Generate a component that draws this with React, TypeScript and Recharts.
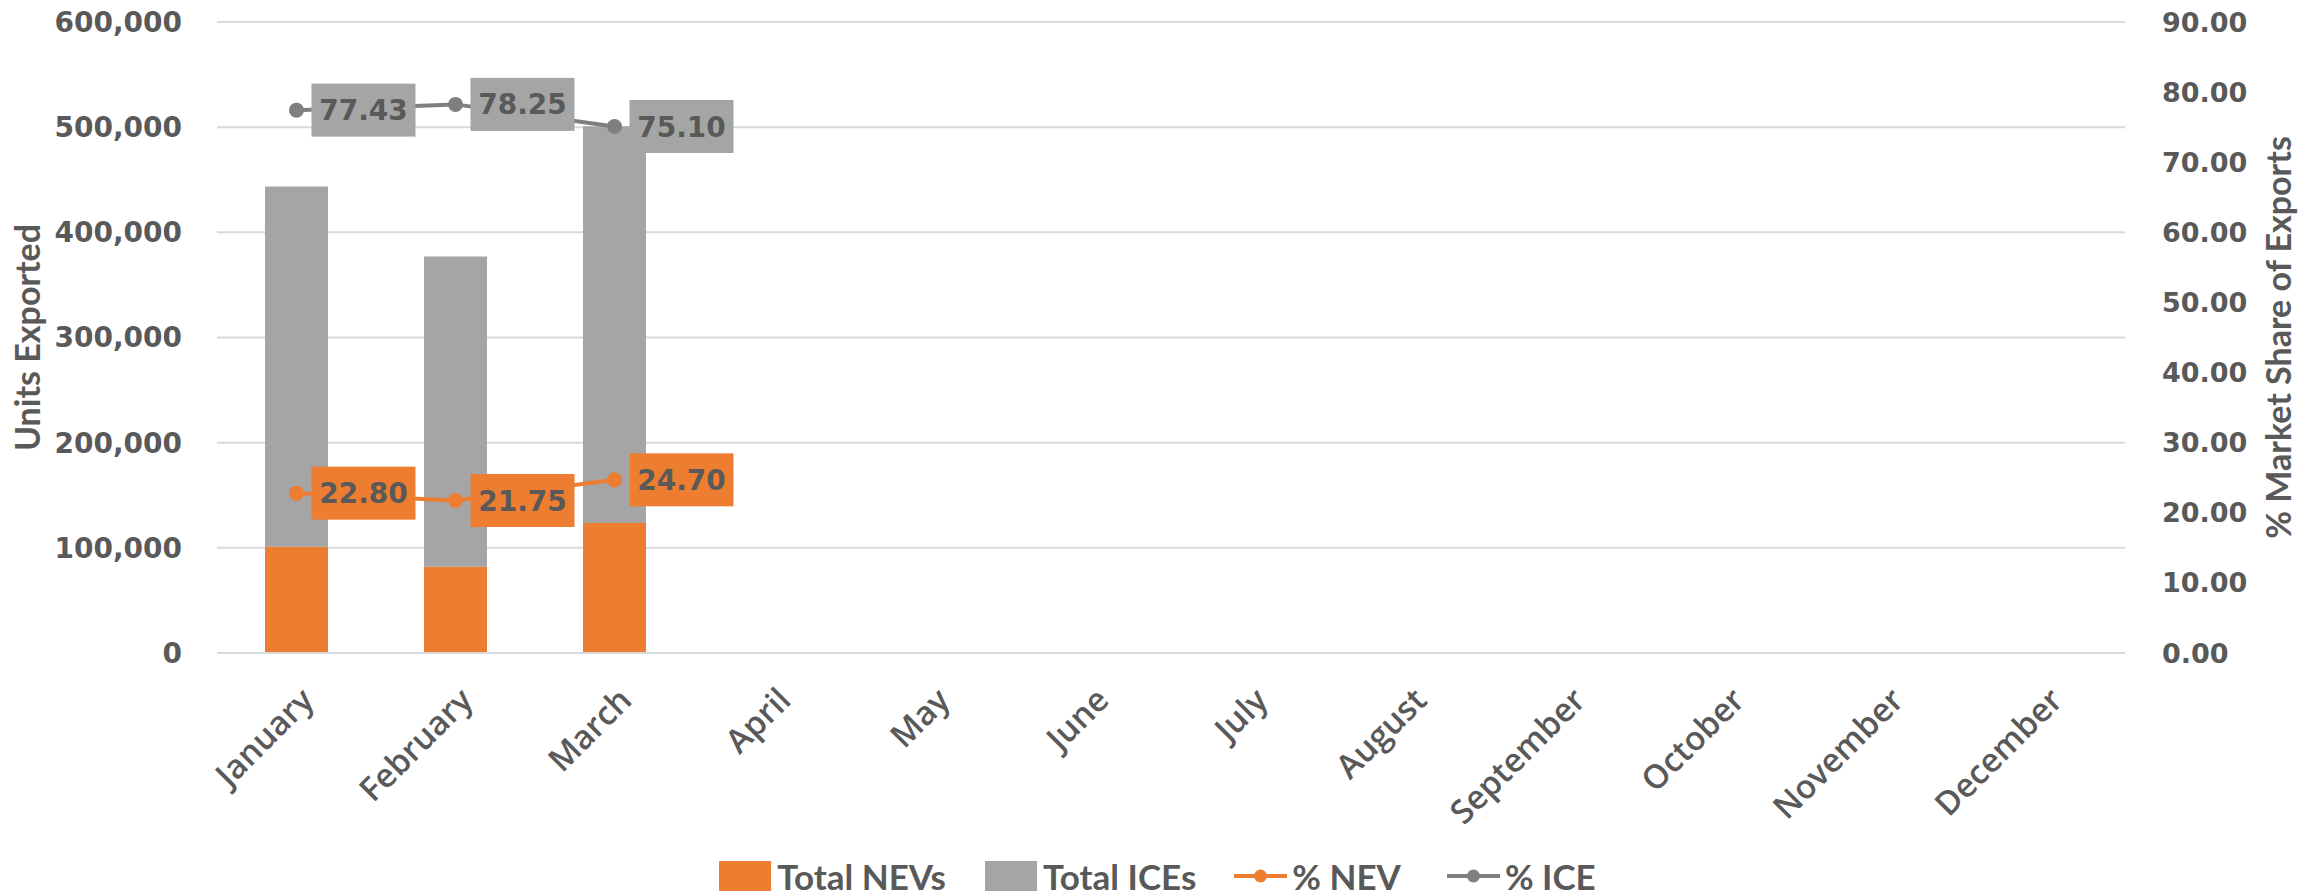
import { Bar, CartesianGrid, ComposedChart, Label, LabelList, Legend, Line, XAxis, YAxis } from "recharts";

const months = ['January', 'February', 'March', 'April', 'May', 'June', 'July', 'August', 'September', 'October', 'November', 'December'];
const nevUnits = [101000, 82000, 123700, null, null, null, null, null, null, null, null, null];
const iceUnits = [342600, 295000, 377100, null, null, null, null, null, null, null, null, null];
const nevShare = [22.80, 21.75, 24.70, null, null, null, null, null, null, null, null, null];
const iceShare = [77.43, 78.25, 75.10, null, null, null, null, null, null, null, null, null];
const unitTicks = [0, 100000, 200000, 300000, 400000, 500000, 600000];
const shareTicks = [0, 10, 20, 30, 40, 50, 60, 70, 80, 90];

const data = months.map((m, i) => ({
    month: m,
    nev: nevUnits[i],
    ice: iceUnits[i],
    nevPct: nevShare[i],
    icePct: iceShare[i],
}));

const ORANGE = '#ED7D31';
const GREY = '#A5A5A5';
const GREY_LINE = '#7F7F7F';
const TEXT = '#595959';
const TITLE_FONT = "Lato, 'Open Sans', sans-serif";
const TICK_FONT = "'DejaVu Sans', Verdana, sans-serif";

function MonthTick(props: any) {
    const { x, y, payload } = props;
    const ax = x + 11, ay = y + 41;
    return (
        <text x={ax} y={ay} dy="0.35em" textAnchor="end" transform={`rotate(-45, ${ax}, ${ay})`}
            fill={TEXT} fontFamily="'Open Sans', sans-serif" fontWeight={600} fontSize={33}>
            {payload.value}
        </text>
    );
}

function boxLabel(fill: string) {
    return (props: any) => {
        const { x, y, value } = props;
        if (value == null) return null;
        const w = 104, h = 53;
        return (
            <g>
                <rect x={x + 15} y={y - h / 2} width={w} height={h} fill={fill} />
                <text x={x + 15 + w / 2} y={y} dy="0.36em" textAnchor="middle" fill={TEXT}
                    fontFamily={TICK_FONT} fontWeight="bold" fontSize={28}>
                    {Number(value).toFixed(2)}
                </text>
            </g>
        );
    };
}

// rotated axis title, bx = x of the text baseline
function AxisTitle(props: any) {
    const { viewBox, value, bx } = props;
    const cy = viewBox.y + viewBox.height / 2;
    return (
        <text x={bx} y={cy} textAnchor="middle" transform={`rotate(-90, ${bx}, ${cy})`}
            fill={TEXT} fontFamily={TITLE_FONT} fontWeight="bold" fontSize={34}>
            {value}
        </text>
    );
}

function LegendBox() {
    const txt = { fontFamily: TITLE_FONT, fontWeight: 'bold', fontSize: 35, color: TEXT, lineHeight: '36px' } as const;
    const swatch = (c: string) => <div style={{ width: 52, height: 30, background: c, marginRight: 6 }} />;
    const lineKey = (c: string) => (
        <svg width={53} height={20} style={{ marginRight: 5 }}>
            <line x1={0} y1={10} x2={53} y2={10} stroke={c} strokeWidth={4} />
            <circle cx={26.5} cy={10} r={6.5} fill={c} />
        </svg>
    );
    return (
        <div style={{ display: 'flex', justifyContent: 'center', alignItems: 'center', height: 36 }}>
            <div style={{ display: 'flex', alignItems: 'center', marginRight: 39 }}>{swatch(ORANGE)}<span style={txt}>Total NEVs</span></div>
            <div style={{ display: 'flex', alignItems: 'center', marginRight: 38 }}>{swatch(GREY)}<span style={txt}>Total ICEs</span></div>
            <div style={{ display: 'flex', alignItems: 'center', marginRight: 46 }}>{lineKey(ORANGE)}<span style={txt}>% NEV</span></div>
            <div style={{ display: 'flex', alignItems: 'center' }}>{lineKey(GREY_LINE)}<span style={txt}>% ICE</span></div>
        </div>
    );
}

export default function ExportsChart() {
    return (
        <div>
            <style>{`body{margin:0}`}</style>
            <ComposedChart width={2315} height={894} data={data} margin={{ top: 22, right: 0, left: 0, bottom: 0 }}>
                <CartesianGrid yAxisId="left" vertical={false} stroke="#D9D9D9" strokeWidth={2} />
                <XAxis dataKey="month" height={205} tickLine={false} tickSize={0} tickMargin={0}
                    axisLine={{ stroke: '#D9D9D9', strokeWidth: 2 }} tick={<MonthTick />} interval={0} />
                <YAxis yAxisId="left" width={217} domain={[0, 600000]} ticks={unitTicks} axisLine={false} tickLine={false}
                    tickSize={0} tickMargin={35} tickFormatter={(v: number) => v.toLocaleString('en-US')}
                    tick={{ fill: TEXT, fontFamily: TICK_FONT, fontWeight: 'bold', fontSize: 28 }}>
                    <Label value="Units Exported" content={<AxisTitle bx={40} />} />
                </YAxis>
                <YAxis yAxisId="right" orientation="right" width={190} domain={[0, 90]} ticks={shareTicks} axisLine={false}
                    tickLine={false} tickSize={0} tickMargin={37} tickFormatter={(v: number) => v.toFixed(2)}
                    tick={{ fill: TEXT, fontFamily: TICK_FONT, fontWeight: 'bold', fontSize: 27, textAnchor: 'start' }}>
                    <Label value="% Market Share of Exports" content={<AxisTitle bx={2291} />} />
                </YAxis>
                <Legend verticalAlign="bottom" content={<LegendBox />} />
                <Bar yAxisId="left" dataKey="nev" stackId="u" fill={ORANGE} name="Total NEVs" barSize={63} isAnimationActive={false} />
                <Bar yAxisId="left" dataKey="ice" stackId="u" fill={GREY} name="Total ICEs" barSize={63} isAnimationActive={false} />
                <Line yAxisId="right" dataKey="nevPct" stroke={ORANGE} strokeWidth={4} name="% NEV"
                    dot={{ r: 7.5, fill: ORANGE, stroke: ORANGE, strokeWidth: 0 }} activeDot={false} isAnimationActive={false}>
                    <LabelList dataKey="nevPct" content={boxLabel(ORANGE)} />
                </Line>
                <Line yAxisId="right" dataKey="icePct" stroke={GREY_LINE} strokeWidth={4} name="% ICE"
                    dot={{ r: 7.5, fill: GREY_LINE, stroke: GREY_LINE, strokeWidth: 0 }} activeDot={false} isAnimationActive={false}>
                    <LabelList dataKey="icePct" content={boxLabel(GREY)} />
                </Line>
            </ComposedChart>
        </div>
    );
}
